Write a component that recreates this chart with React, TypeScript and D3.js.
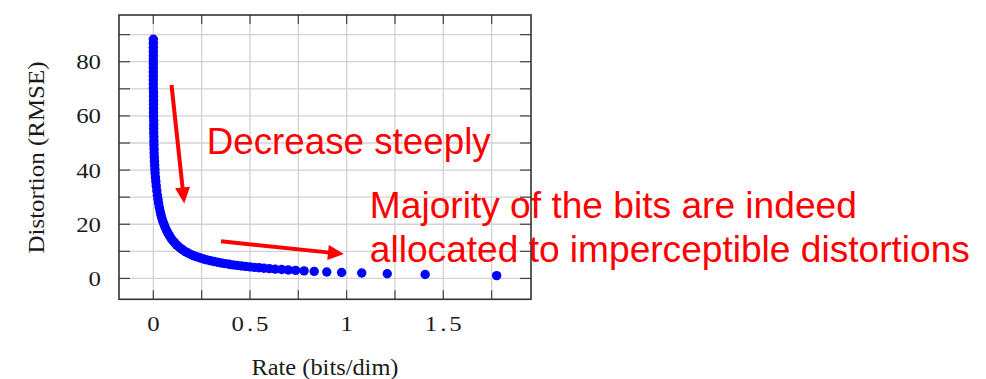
import React from "react";
import * as d3 from "d3";

// ---- data ----
const rate = [
  0, 0, 0, 0, 0, 0, 0, 0, 0, 0,
  0, 0, 0, 0.001, 0.001, 0.001, 0.001, 0.001, 0.001, 0.001,
  0.002, 0.002, 0.002, 0.002, 0.003, 0.003, 0.003, 0.004, 0.004, 0.005,
  0.006, 0.007, 0.008, 0.009, 0.011, 0.013, 0.015, 0.018, 0.021, 0.024,
  0.027, 0.031, 0.035, 0.039, 0.044, 0.049, 0.055, 0.061, 0.068, 0.075,
  0.083, 0.091, 0.1, 0.11, 0.12, 0.131, 0.143, 0.155, 0.168, 0.182,
  0.196, 0.211, 0.227, 0.243, 0.26, 0.277, 0.295, 0.313, 0.332, 0.351,
  0.371, 0.391, 0.412, 0.433, 0.455, 0.477, 0.5, 0.523, 0.547, 0.572,
  0.6, 0.63, 0.664, 0.698, 0.736, 0.78, 0.832, 0.897, 0.974, 1.078,
  1.21, 1.406, 1.776,
];
const distortion = [
  88.3, 86.8, 85.3, 83.8, 82.3, 80.8, 79.3, 77.8, 76.3, 74.8,
  73.3, 71.8, 70.3, 68.8, 67.3, 65.8, 64.3, 62.8, 61.3, 59.8,
  58.3, 56.8, 55.3, 53.8, 52.3, 50.8, 49.3, 47.8, 46.3, 44.8,
  43.3, 41.8, 40.3, 38.9, 37.3, 35.8, 34.2, 32.4, 30.7, 29.2,
  27.8, 26.3, 24.9, 23.6, 22.3, 21.1, 20.0, 18.9, 17.8, 16.8,
  15.8, 14.9, 14.0, 13.2, 12.4, 11.7, 11.0, 10.4, 9.8, 9.3,
  8.8, 8.35, 7.95, 7.55, 7.2, 6.85, 6.55, 6.25, 5.98, 5.72,
  5.48, 5.25, 5.03, 4.82, 4.62, 4.44, 4.27, 4.1, 3.94, 3.78,
  3.62, 3.46, 3.3, 3.14, 2.98, 2.8, 2.6, 2.4, 2.2, 2.0,
  1.75, 1.45, 1.05,
];

const xGrid = [0, 0.25, 0.5, 0.75, 1, 1.25, 1.5, 1.75];
const yGrid = [0, 10, 20, 30, 40, 50, 60, 70, 80, 90];
const xTicks = [0, 0.5, 1, 1.5];
const xTickLabels = ["0", "0.5", "1", "1.5"];
const yTicks = [0, 20, 40, 60, 80];
const yTickLabels = ["0", "20", "40", "60", "80"];

const xLabel = "Rate (bits/dim)";
const yLabel = "Distortion (RMSE)";

// annotations in data coordinates
const arrows = [
  { from: [0.094, 71.4], to: [0.16, 27.7] },
  { from: [0.35, 13.7], to: [0.986, 9.0] },
];
const notes = [
  { text: "Decrease steeply", at: [0.276, 45.8], width: 284 },
  { text: "Majority of the bits are indeed", at: [1.12, 22.2], width: 487 },
  { text: "allocated to imperceptible distortions", at: [1.12, 6.2], width: 600 },
];

const W = 986;
const H = 379;
const L = 119, R = 531, T = 15, B = 299.3;

export default function App() {
  const x = d3.scaleLinear().domain([-0.1776, 1.9536]).range([L, R]);
  const y = d3.scaleLinear().domain([-7.695, 97.245]).range([B, T]);
  const points = rate.map((r, i) => [r, distortion[i]]);
  const serif = "'Liberation Serif', 'Times New Roman', serif";
  const sans = "'Liberation Sans', Arial, sans-serif";
  const tickColor = "#444";

  const arrowEl = (a: any, i: number) => {
    const x1 = x(a.from[0]), y1 = y(a.from[1]);
    const x2 = x(a.to[0]), y2 = y(a.to[1]);
    const dx = x2 - x1, dy = y2 - y1;
    const len = Math.hypot(dx, dy);
    const ux = dx / len, uy = dy / len;
    const hl = 16, hw = 7.5;
    const bx = x2 - ux * hl, by = y2 - uy * hl;
    const pts = [
      [x2, y2],
      [bx - uy * hw, by + ux * hw],
      [bx + uy * hw, by - ux * hw],
    ];
    return (
      <g key={"a" + i}>
        <line x1={x1} y1={y1} x2={bx + ux * 2} y2={by + uy * 2} stroke="#ff0000" strokeWidth={4} />
        <polygon points={pts.map((p) => p.join(",")).join(" ")} fill="#ff0000" />
      </g>
    );
  };

  return (
    <div style={{ position: "absolute", left: 0, top: 0 }}>
      <svg width={W} height={H} style={{ display: "block", background: "#fff" }}>
        <rect x={0} y={0} width={W} height={H} fill="#fff" />
        {/* grid */}
        <g stroke="#d2d2d2" strokeWidth={1.3}>
          {xGrid.map((v) => (
            <line key={"gx" + v} x1={x(v)} x2={x(v)} y1={T} y2={B} />
          ))}
          {yGrid.map((v) => (
            <line key={"gy" + v} x1={L} x2={R} y1={y(v)} y2={y(v)} />
          ))}
        </g>
        {/* ticks */}
        <g stroke={tickColor} strokeWidth={1.2}>
          {xGrid.map((v) => (
            <g key={"tx" + v}>
              <line x1={x(v)} x2={x(v)} y1={B} y2={B - 9} />
              <line x1={x(v)} x2={x(v)} y1={T} y2={T + 9} />
            </g>
          ))}
          {yGrid.map((v) => (
            <g key={"ty" + v}>
              <line x1={L} x2={L + 11} y1={y(v)} y2={y(v)} />
              <line x1={R} x2={R - 11} y1={y(v)} y2={y(v)} />
            </g>
          ))}
        </g>
        {/* data */}
        <g fill="#0000ff">
          {points.map((p, i) => (
            <circle key={"p" + i} cx={x(p[0])} cy={y(p[1])} r={4.7} />
          ))}
        </g>
        {/* frame */}
        <rect x={L} y={T} width={R - L} height={B - T} fill="none" stroke="#333" strokeWidth={1.6} />
        {/* tick labels */}
        <g fontFamily={serif} fontSize={22} fill="#1a1a1a">
          {xTicks.map((v, i) => (
            <text
              key={"xl" + v}
              transform={`translate(${x(v)},${330.5}) scale(1.13,1)`}
              textAnchor="middle"
              letterSpacing={xTickLabels[i].includes(".") ? 2.6 : 0}
              dx={xTickLabels[i].includes(".") ? 1.3 : 0}
            >
              {xTickLabels[i]}
            </text>
          ))}
          {yTicks.map((v, i) => (
            <text
              key={"yl" + v}
              transform={`translate(${101},${y(v) + 7.5}) scale(1.13,1)`}
              textAnchor="end"
            >
              {yTickLabels[i]}
            </text>
          ))}
        </g>
        {/* axis labels */}
        <text
          x={(L + R) / 2}
          y={375}
          textAnchor="middle"
          fontFamily={serif}
          fontSize={24}
          fill="#1a1a1a"
          textLength={147}
          lengthAdjust="spacingAndGlyphs"
        >
          {xLabel}
        </text>
        <text
          transform={`translate(43.5,${(T + 300) / 2}) rotate(-90)`}
          textAnchor="middle"
          fontFamily={serif}
          fontSize={24}
          fill="#1a1a1a"
          textLength={192}
          lengthAdjust="spacingAndGlyphs"
        >
          {yLabel}
        </text>
        {/* annotations */}
        {arrows.map(arrowEl)}
        <g fontFamily={sans} fontSize={37} fill="#ff0000">
          {notes.map((n, i) => (
            <text key={"n" + i} x={x(n.at[0])} y={y(n.at[1])} textLength={n.width} lengthAdjust="spacingAndGlyphs">
              {n.text}
            </text>
          ))}
        </g>
      </svg>
    </div>
  );
}
